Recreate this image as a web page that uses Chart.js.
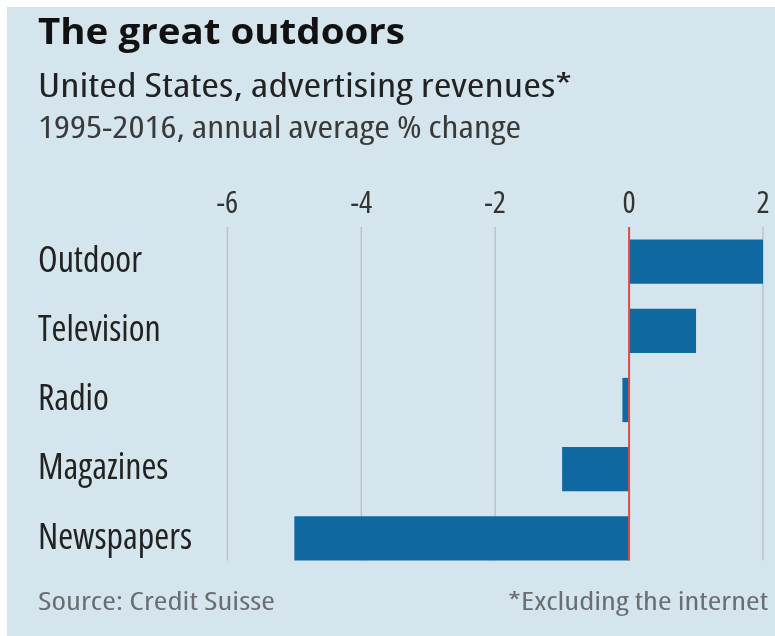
<!DOCTYPE html>
<html>
<head>
<meta charset="utf-8">
<script src="https://cdn.jsdelivr.net/npm/chart.js@4.4.1/dist/chart.umd.min.js"></script>
<style>
  body { margin: 0; background: #fff; width: 775px; height: 636px; overflow: hidden; position: relative; }
  #bg { position: absolute; left: 7px; top: 7px; right: 0; bottom: 0; background: #d5e5ed; }
  #box { position: absolute; left: 0; top: 0; width: 775px; height: 636px; }
  .txt { position: absolute; white-space: nowrap; transform-origin: 0 0; font-family: "Open Sans", sans-serif; font-stretch: condensed; line-height: 1; }
  #title { left: 38px; top: 13px; font-size: 36px; font-weight: 700; font-stretch: normal; color: #111; }
  #sub1 { left: 38px; top: 68px; font-size: 33px; color: #222; }
  #sub2 { left: 38px; top: 112px; font-size: 30px; color: #3a3a3a; }
  #src { left: 38px; top: 587px; font-size: 26px; color: #6a6e70; }
  #note { top: 587px; font-size: 26px; color: #6a6e70; transform-origin: 100% 0; right: 7px; }
</style>
</head>
<body>
<div id="bg"></div>
<div id="box"><canvas id="myChart"></canvas></div>
<div class="txt" id="title" data-w="367">The great outdoors</div>
<div class="txt" id="sub1" data-w="534">United States, advertising revenues*</div>
<div class="txt" id="sub2" data-w="483">1995-2016, annual average % change</div>
<div class="txt" id="src" data-w="237">Source: Credit Suisse</div>
<div class="txt" id="note" data-w="260">*Excluding the internet</div>

<script>
const categories = ['Outdoor', 'Television', 'Radio', 'Magazines', 'Newspapers'];
const avgChange = [2.0, 1.0, -0.1, -1.0, -5.0];
const tickValues = [-6, -4, -2, 0, 2];

// squeeze the header/footer text to the widths in the picture
document.querySelectorAll('.txt').forEach(function(el) {
    const w = el.getBoundingClientRect().width;
    el.style.transform = 'scaleX(' + (el.dataset.w / w) + ')';
});

// 'condensed' goes into the font string so canvas picks the narrow Open Sans
const catFont = { family: '"Open Sans", sans-serif', size: 36, weight: 'condensed' };
const tickFont = { family: '"Open Sans", sans-serif', size: 31, weight: 'condensed' };

// grid and red zero line, drawn only down to the last bar like the original
function lastBarBottom(chart) {
    const bars = chart.getDatasetMeta(0).data;
    const last = bars[bars.length - 1];
    return last.y + last.height / 2;
}

const gridLines = {
    id: 'gridLines',
    beforeDatasetsDraw(chart) {
        const x = chart.scales.x;
        const bottom = lastBarBottom(chart);
        const c = chart.ctx;
        c.save();
        c.strokeStyle = '#b9c4ca';
        c.lineWidth = 1.5;
        tickValues.forEach(function(v) {
            if (v === 0) return;
            const px = x.getPixelForValue(v);
            c.beginPath();
            c.moveTo(px, chart.chartArea.top);
            c.lineTo(px, bottom);
            c.stroke();
        });
        c.restore();
    },
    afterDatasetsDraw(chart) {
        const px = chart.scales.x.getPixelForValue(0);
        const c = chart.ctx;
        c.save();
        c.strokeStyle = '#e2493f';
        c.lineWidth = 2;
        c.beginPath();
        c.moveTo(px, chart.chartArea.top);
        c.lineTo(px, lastBarBottom(chart));
        c.stroke();
        c.restore();
    }
};

const ctx = document.getElementById('myChart').getContext('2d');
const myChart = new Chart(ctx, {
    type: 'bar',
    data: {
        labels: categories,
        datasets: [{
            data: avgChange,
            backgroundColor: '#0f68a0',
            barPercentage: 0.8,
            categoryPercentage: 0.8
        }]
    },
    options: {
        indexAxis: 'y',
        responsive: true,
        maintainAspectRatio: false,
        animation: false,
        layout: {
            padding: { left: 38, right: 12, top: 167, bottom: 63 }
        },
        plugins: {
            legend: { display: false },
            tooltip: { enabled: false }
        },
        scales: {
            x: {
                position: 'top',
                min: -6.2,
                max: 2,
                afterBuildTicks: function(scale) {
                    scale.ticks = tickValues.map(v => ({ value: v }));
                },
                afterFit: function(scale) { scale.height = 60; },
                ticks: {
                    font: tickFont,
                    color: '#333',
                    padding: 4,
                    maxRotation: 0
                },
                grid: { display: false, drawTicks: false },
                border: { display: false }
            },
            y: {
                afterFit: function(scale) { scale.width = 176; },
                ticks: {
                    font: catFont,
                    color: '#222',
                    crossAlign: 'far'
                },
                grid: { display: false, drawTicks: false },
                border: { display: false }
            }
        }
    },
    plugins: [gridLines]
});
</script>
</body>
</html>
